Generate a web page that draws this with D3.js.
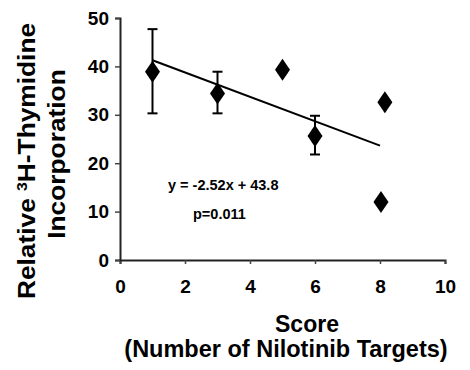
<!DOCTYPE html>
<html><head><meta charset="utf-8">
<script src="https://cdn.jsdelivr.net/npm/d3@7"></script>
<style>
body{margin:0;background:#fff;}
text{font-family:"Liberation Sans",Arial,sans-serif;font-weight:bold;fill:#000;}
</style></head>
<body>
<svg id="c" width="470" height="370"></svg>
<script>
const scores = [1, 3, 5, 6, 8.15, 8.03];
const values = [38.9, 34.4, 39.3, 25.6, 32.6, 12.0];
const errUpper = [47.7, 38.9, null, 29.8, null, null];
const errLower = [30.3, 30.3, null, 21.8, null, null];
const xTicks = [0, 2, 4, 6, 8, 10];
const yTicks = [0, 10, 20, 30, 40, 50];
const slope = -2.52, intercept = 43.8;
const fitRange = [1, 8];
const eqText = "y = -2.52x + 43.8";
const pText = "p=0.011";

const svg = d3.select("#c");
const x = d3.scaleLinear().domain([0, 10]).range([120, 445]);
const y = d3.scaleLinear().domain([0, 50]).range([260, 18]);

// axes
const xAxis = svg.append("g").attr("transform", "translate(0,260)")
  .call(d3.axisBottom(x).tickValues(xTicks).tickSize(4).tickPadding(16));
const yAxis = svg.append("g").attr("transform", "translate(120,0)")
  .call(d3.axisLeft(y).tickValues(yTicks).tickSize(5).tickPadding(6));
[xAxis, yAxis].forEach(a => {
  a.select(".domain").attr("stroke", "#222").attr("stroke-width", 2);
  a.selectAll(".tick line").attr("stroke", "#444").attr("stroke-width", 1.5);
  a.selectAll(".tick text").style("font-size", "19px").style("font-family", "'Liberation Sans',Arial,sans-serif").style("font-weight", "bold").attr("fill", "#000");
});

const data = scores.map((s, i) => ({x: s, y: values[i], hi: errUpper[i], lo: errLower[i]}));

// error bars
const eb = svg.append("g").attr("stroke", "#000").attr("stroke-width", 2);
data.filter(d => d.hi != null).forEach(d => {
  const cx = x(d.x);
  eb.append("line").attr("x1", cx).attr("x2", cx).attr("y1", y(d.hi)).attr("y2", y(d.lo));
  eb.append("line").attr("x1", cx - 5).attr("x2", cx + 5).attr("y1", y(d.hi)).attr("y2", y(d.hi));
  eb.append("line").attr("x1", cx - 5).attr("x2", cx + 5).attr("y1", y(d.lo)).attr("y2", y(d.lo));
});

// trend line
svg.append("line")
  .attr("x1", x(fitRange[0])).attr("y1", y(slope * fitRange[0] + intercept))
  .attr("x2", x(fitRange[1])).attr("y2", y(slope * fitRange[1] + intercept))
  .attr("stroke", "#000").attr("stroke-width", 2);

// diamonds
const hw = 7.5, hh = 11;
svg.append("g").selectAll("path").data(data).join("path")
  .attr("d", d => {
    const cx = x(d.x), cy = y(d.y);
    return `M${cx},${cy - hh}L${cx + hw},${cy}L${cx},${cy + hh}L${cx - hw},${cy}Z`;
  })
  .attr("fill", "#000");

// annotations
svg.append("text").attr("x", 168).attr("y", 190).style("font-size", "14.5px").text(eqText);
svg.append("text").attr("x", 193).attr("y", 219).style("font-size", "14.5px").text(pText);

// axis titles
svg.append("text").attr("x", 307).attr("y", 332).attr("text-anchor", "middle").style("font-size", "23px").text("Score");
svg.append("text").attr("x", 286).attr("y", 357).attr("text-anchor", "middle").style("font-size", "23.5px").text("(Number of Nilotinib Targets)");

const yl = svg.append("text").attr("transform", "translate(35,161) rotate(-90) scale(1.12,1)").attr("text-anchor", "middle").style("font-size", "23.5px");
yl.append("tspan").text("Relative ");
yl.append("tspan").attr("dy", -8).style("font-size", "14px").text("3");
yl.append("tspan").attr("dy", 8).text("H-Thymidine");
svg.append("text").attr("transform", "translate(65,154) rotate(-90) scale(1.12,1)").attr("text-anchor", "middle").style("font-size", "23.5px").text("Incorporation");
</script>
</body></html>
